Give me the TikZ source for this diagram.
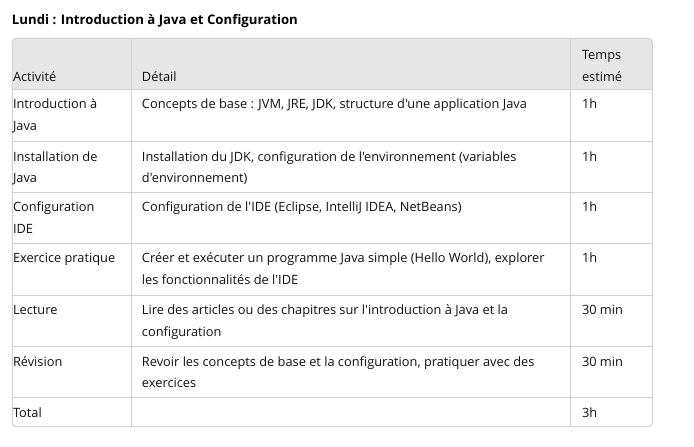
\documentclass[tikz,border=0pt]{standalone}
\usepackage{fontspec}
\setmainfont{Open Sans}[Ligatures=TeXOff]
\definecolor{gridc}{HTML}{D2D2D2}
\definecolor{headc}{HTML}{E6E6E6}
\definecolor{txtc}{HTML}{111111}
\tikzset{
  cell/.style={anchor=base west,inner sep=0pt,outer sep=0pt,text=txtc,font=\fontsize{9.6}{11}\selectfont},
  titlestyle/.style={anchor=base west,inner sep=0pt,outer sep=0pt,text=black,font=\fontsize{9.9}{11}\selectfont\bfseries},
  gridline/.style={draw=gridc,line width=0.75pt}
}
\begin{document}
\begin{tikzpicture}[x=0.75pt,y=-0.75pt]
\useasboundingbox[fill=white] (0,0) rectangle (694,447);
% header background
\fill[headc,rounded corners=3] (12.3,38.3) rectangle (652.3,89.3);
\fill[headc] (12.3,60) rectangle (652.3,89.3);
% grid
\draw[gridline] (12.3,89.3) -- (652.3,89.3);
\foreach \yy in {141.7,192.3,243.3,295,346.7,397.7}{
  \draw[gridline] (12.3,\yy) -- (652.3,\yy);
}
\draw[gridline] (131.7,38.3) -- (131.7,426.7);
\draw[gridline] (570.7,38.3) -- (570.7,426.7);
\draw[gridline,rounded corners=3] (12.3,38.3) rectangle (652.3,426.7);
% title
\node[titlestyle] (title) at (12,24.8) {Lundi : Introduction à Java et Configuration};
% header
\node[cell] (h1) at (13,81) {Activité};
\node[cell] (h2) at (142,81) {Détail};
\node[cell] (h3a) at (582,59.3) {Temps};
\node[cell] (h3b) at (582,81) {estimé};
% row 1
\node[cell] (r1a) at (13,108.6) {Introduction à};
\node[cell] (r1b) at (13,130.3) {Java};
\node[cell] (r1c) at (142,108.6) {Concepts de base : JVM, JRE, JDK, structure d'une application Java};
\node[cell] (r1d) at (582,108.6) {1h};
% row 2
\node[cell] (r2a) at (13,161) {Installation de};
\node[cell] (r2b) at (13,182.7) {Java};
\node[cell] (r2c) at (142,161) {Installation du JDK, configuration de l'environnement (variables};
\node[cell] (r2cc) at (142,182.7) {d'environnement)};
\node[cell] (r2d) at (582,161) {1h};
% row 3
\node[cell] (r3a) at (13,211.6) {Configuration};
\node[cell] (r3b) at (13,233.3) {IDE};
\node[cell] (r3c) at (142,211.6) {Configuration de l'IDE (Eclipse, IntelliJ IDEA, NetBeans)};
\node[cell] (r3d) at (582,211.6) {1h};
% row 4
\node[cell] (r4a) at (13,262.6) {Exercice pratique};
\node[cell] (r4c) at (142,262.6) {Créer et exécuter un programme Java simple (Hello World), explorer};
\node[cell] (r4cc) at (142,284.3) {les fonctionnalités de l'IDE};
\node[cell] (r4d) at (582,262.6) {1h};
% row 5
\node[cell] (r5a) at (13,314.3) {Lecture};
\node[cell] (r5c) at (142,314.3) {Lire des articles ou des chapitres sur l'introduction à Java et la};
\node[cell] (r5cc) at (142,336) {configuration};
\node[cell] (r5d) at (582,314.3) {30 min};
% row 6
\node[cell] (r6a) at (13,366) {Révision};
\node[cell] (r6c) at (142,366) {Revoir les concepts de base et la configuration, pratiquer avec des};
\node[cell] (r6cc) at (142,387.7) {exercices};
\node[cell] (r6d) at (582,366) {30 min};
% total
\node[cell] (r7a) at (13,417) {Total};
\node[cell] (r7d) at (582,417) {3h};
\end{tikzpicture}
\end{document}
